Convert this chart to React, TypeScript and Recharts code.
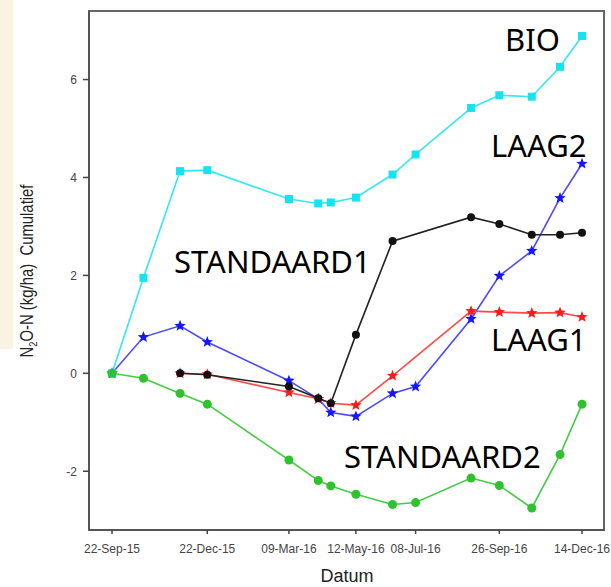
import {
  LineChart,
  Line,
  XAxis,
  YAxis,
  ReferenceArea,
} from "recharts";

// measurement days, counted from 22-Sep-15
const days = [0, 30, 65, 91, 169, 197, 209, 233, 268, 290, 343, 370, 401, 428, 449];

const bio = [0, 1.95, 4.13, 4.15, 3.56, 3.47, 3.49, 3.59, 4.06, 4.47, 5.42, 5.68, 5.65, 6.26, 6.89];
const laag2 = [0, 0.74, 0.97, 0.64, -0.15, -0.52, -0.8, -0.88, -0.41, -0.27, 1.11, 1.99, 2.5, 3.58, 4.28];
const laag1 = [null, null, 0, -0.02, -0.39, -0.52, -0.61, -0.65, -0.05, null, 1.27, 1.25, 1.23, 1.24, 1.15];
const standaard1 = [null, null, 0, -0.03, -0.27, -0.51, -0.61, 0.79, 2.7, null, 3.19, 3.05, 2.83, 2.83, 2.87];
const standaard2 = [0, -0.1, -0.41, -0.63, -1.77, -2.19, -2.3, -2.47, -2.68, -2.64, -2.14, -2.29, -2.75, -1.66, -0.63];

const tickDays = [0, 91, 169, 233, 290, 370, 449];
const tickLabels = ["22-Sep-15", "22-Dec-15", "09-Mar-16", "12-May-16", "08-Jul-16", "26-Sep-16", "14-Dec-16"];
const yTicks = [-2, 0, 2, 4, 6];

const X_DOMAIN: [number, number] = [-22, 470];
const Y_DOMAIN: [number, number] = [-3.2, 7.4];

const data = days.map((d, i) => ({
  day: d,
  bio: bio[i],
  laag2: laag2[i],
  laag1: laag1[i],
  standaard1: standaard1[i],
  standaard2: standaard2[i],
}));

const starPoints = (cx: number, cy: number, ro: number, ri: number) => {
  const pts: string[] = [];
  for (let k = 0; k < 10; k++) {
    const r = k % 2 === 0 ? ro : ri;
    const a = -Math.PI / 2 + (k * Math.PI) / 5;
    pts.push(`${cx + r * Math.cos(a)},${cy + r * Math.sin(a)}`);
  }
  return pts.join(" ");
};

const starDot = (color: string) => (props: any) => {
  const { cx, cy, index, value } = props;
  if (value == null || cx == null || cy == null) return <g key={`s${index}`} />;
  return <polygon key={`s${index}`} points={starPoints(cx, cy, 6, 2.6)} fill={color} />;
};

const squareDot = (color: string) => (props: any) => {
  const { cx, cy, index } = props;
  if (cx == null || cy == null) return <g key={`q${index}`} />;
  return <rect key={`q${index}`} x={cx - 4} y={cy - 4} width={8} height={8} fill={color} />;
};

const labelStyle = {
  fontFamily: "'Noto Sans', sans-serif",
  fontSize: 31,
  fill: "#000",
};

const axisFont = "'Liberation Sans', Arial, sans-serif";
const tickStyle = { fontFamily: axisFont, fontSize: 12, fill: "#444" };

export default function App() {
  return (
    <div
      style={{
        position: "absolute",
        left: 0,
        top: 0,
        width: 611,
        height: 587,
        background: "#fff",
        overflow: "hidden",
      }}
    >
      <div style={{ position: "absolute", left: 0, top: 0, width: 13, height: 349, background: "#fbf3e2" }} />
      <LineChart
        width={611}
        height={587}
        data={data}
        margin={{ top: 11, right: 7, bottom: 0, left: 0 }}
      >
        <XAxis
          dataKey="day"
          type="number"
          domain={X_DOMAIN}
          ticks={tickDays}
          tickFormatter={(v: number) => tickLabels[tickDays.indexOf(v)] ?? ""}
          height={57}
          tickSize={4}
          tickMargin={10}
          tick={tickStyle}
          axisLine={{ stroke: "#555", strokeWidth: 2 }}
          tickLine={{ stroke: "#444", strokeWidth: 1.5 }}
          allowDataOverflow
        />
        <YAxis
          type="number"
          domain={Y_DOMAIN}
          ticks={yTicks}
          width={89}
          tickSize={6}
          tickMargin={6}
          tick={tickStyle}
          axisLine={{ stroke: "#555", strokeWidth: 2 }}
          tickLine={{ stroke: "#444", strokeWidth: 1.5 }}
          allowDataOverflow
        />
        <ReferenceArea
          x1={X_DOMAIN[0]}
          x2={X_DOMAIN[1]}
          y1={Y_DOMAIN[0]}
          y2={Y_DOMAIN[1]}
          fill="none"
          stroke="#666"
          strokeWidth={2}
        />
        <Line
          dataKey="bio"
          stroke="#33e8f2"
          strokeWidth={1.6}
          dot={squareDot("#14e4f0")}
          isAnimationActive={false}
        />
        <Line
          dataKey="laag2"
          stroke="#4a4aff"
          strokeWidth={1.6}
          dot={starDot("#1515ff")}
          isAnimationActive={false}
        />
        <Line
          dataKey="laag1"
          stroke="#ff4a4a"
          strokeWidth={1.6}
          dot={starDot("#ff1a1a")}
          connectNulls
          isAnimationActive={false}
        />
        <Line
          dataKey="standaard1"
          stroke="#222"
          strokeWidth={1.6}
          dot={{ r: 4, fill: "#111", stroke: "none" }}
          connectNulls
          isAnimationActive={false}
        />
        <Line
          dataKey="standaard2"
          stroke="#44cc44"
          strokeWidth={1.6}
          dot={{ r: 4.5, fill: "#2ec22e", stroke: "none" }}
          isAnimationActive={false}
        />
      </LineChart>
      <svg
        width={611}
        height={587}
        style={{ position: "absolute", left: 0, top: 0, pointerEvents: "none" }}
      >
        <text x={505} y={51} style={labelStyle}>BIO</text>
        <text x={491} y={157} style={labelStyle}>LAAG2</text>
        <text x={174} y={273} style={labelStyle}>STANDAARD1</text>
        <text x={491} y={351} style={labelStyle}>LAAG1</text>
        <text x={344} y={468} style={labelStyle}>STANDAARD2</text>
        <text
          x={347}
          y={582}
          textAnchor="middle"
          style={{ fontFamily: axisFont, fontSize: 18, fill: "#222" }}
        >
          Datum
        </text>
        {/* narrow axis title, squeezed along its reading direction */}
        <text
          transform="translate(33,271) rotate(-90) scale(0.85,1)"
          textAnchor="middle"
          xmlSpace="preserve"
          style={{ fontFamily: axisFont, fontSize: 17.5, fill: "#222" }}
        >
          N<tspan fontSize={11} dy={4}>2</tspan>
          <tspan dy={-4}>O-N (kg/ha)  Cumulatief</tspan>
        </text>
      </svg>
    </div>
  );
}
